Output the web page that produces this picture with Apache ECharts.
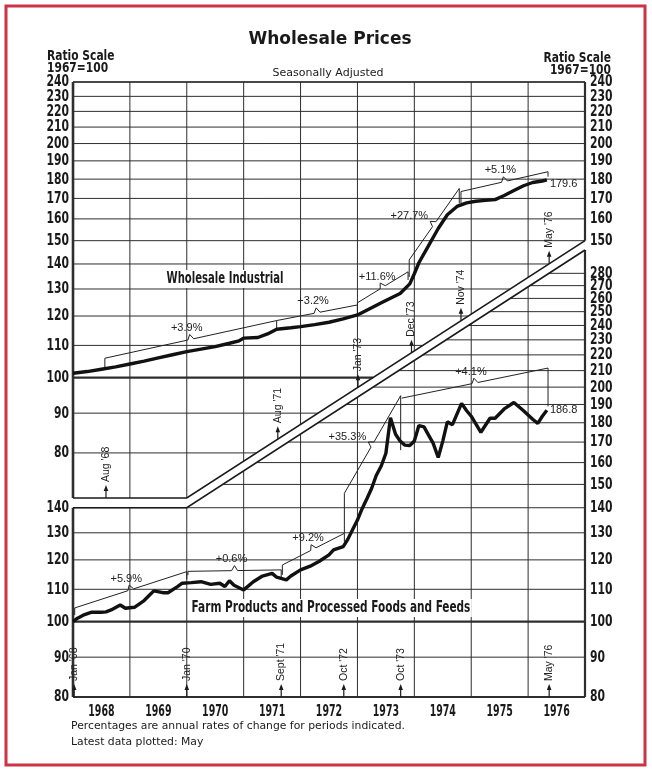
<!DOCTYPE html>
<html>
<head>
<meta charset="utf-8">
<script src="https://cdn.jsdelivr.net/npm/echarts@6/dist/echarts.min.js"></script>
<style>
html, body { margin: 0; padding: 0; background: #fff; }
#chart { width: 652px; height: 771px; }
</style>
</head>
<body>
<div id="chart"></div>
<script>
// dates are decimal years, values are index numbers (1967 = 100)
var industrialDates = [1968.00, 1968.25, 1968.50, 1968.75, 1969.00, 1969.25, 1969.50, 1969.75, 1970.00, 1970.25,
    1970.50, 1970.75, 1970.92, 1971.00, 1971.25, 1971.42, 1971.58, 1971.83, 1972.00, 1972.25, 1972.50, 1972.75,
    1973.00, 1973.25, 1973.42, 1973.58, 1973.75, 1973.92, 1974.00, 1974.08, 1974.25, 1974.42, 1974.58, 1974.75,
    1974.92, 1975.08, 1975.25, 1975.42, 1975.58, 1975.75, 1975.92, 1976.08, 1976.25, 1976.33];
var industrialValues = [101.3, 101.8, 102.5, 103.2, 104.1, 105.0, 106.0, 107.0, 108.0, 108.8,
    109.6, 110.7, 111.5, 112.4, 112.6, 113.8, 115.4, 115.9, 116.3, 117.0, 117.8, 119.0,
    120.4, 123.0, 124.8, 126.5, 128.3, 132.0, 136.0, 140.5, 147.8, 155.5, 162.0, 166.0,
    167.8, 168.6, 169.0, 169.4, 171.5, 174.0, 176.5, 178.2, 179.0, 179.6];

var farmDates = [1968.00, 1968.08, 1968.18, 1968.33, 1968.50, 1968.58, 1968.67, 1968.83, 1968.92, 1969.08,
    1969.25, 1969.42, 1969.58, 1969.67, 1969.83, 1969.92, 1970.08, 1970.25, 1970.42, 1970.58,
    1970.67, 1970.75, 1970.83, 1971.00, 1971.17, 1971.33, 1971.50, 1971.58, 1971.75, 1971.83,
    1972.00, 1972.17, 1972.33, 1972.50, 1972.58, 1972.75, 1972.83, 1972.92, 1973.00, 1973.08,
    1973.17, 1973.25, 1973.33, 1973.42, 1973.50, 1973.58, 1973.67, 1973.75, 1973.83, 1973.92,
    1974.00, 1974.08, 1974.17, 1974.25, 1974.33, 1974.42, 1974.50, 1974.58, 1974.67, 1974.83,
    1974.92, 1975.00, 1975.17, 1975.33, 1975.42, 1975.58, 1975.75, 1975.92, 1976.08, 1976.17,
    1976.25, 1976.33];
var farmValues = [100.0, 101.0, 101.9, 102.8, 102.8, 102.9, 103.5, 105.0, 104.0, 104.3,
    106.4, 109.5, 108.9, 108.9, 110.8, 112.0, 112.2, 112.5, 111.6, 112.0,
    110.9, 112.8, 111.3, 109.8, 112.5, 114.4, 115.3, 114.0, 113.1, 114.4,
    116.5, 117.8, 119.5, 121.8, 123.6, 124.8, 127.5, 131.5, 135.0, 139.5,
    144.0, 148.3, 154.0, 158.5, 164.5, 182.7, 174.0, 170.5, 168.5, 168.3,
    170.5, 178.5, 177.8, 173.5, 169.5, 162.4, 170.5, 180.5, 179.0, 190.6,
    186.5, 183.5, 175.0, 182.4, 182.4, 187.5, 191.1, 186.5, 181.9, 179.7,
    183.5, 186.8];

var yearLabels = ['1968', '1969', '1970', '1971', '1972', '1973', '1974', '1975', '1976'];
var gridYears = [1969, 1970, 1971, 1972, 1973, 1974, 1975, 1976];
var upperTicks = [80, 90, 100, 110, 120, 130, 140, 150, 160, 170, 180, 190, 200, 210, 220, 230, 240];
var upperRightTicks = [150, 160, 170, 180, 190, 200, 210, 220, 230, 240];
var lowerLeftTicks = [80, 90, 100, 110, 120, 130, 140];
var lowerTicks = [80, 90, 100, 110, 120, 130, 140, 150, 160, 170, 180, 190, 200, 210, 220, 230, 240, 250, 260, 270, 280];

// rate brackets: [from, to, start at curve, start of bar, end of bar, end at curve, label]
var industrialRates = [
    [1968.56, 1971.58, 103.0, 105.9, 118.4, 115.4, '+3.9%'],
    [1971.58, 1973.00, 118.4, 118.4, 124.0, 120.4, '+3.2%'],
    [1973.00, 1973.89, 121.5, 124.8, 136.8, 133.5, '+11.6%'],
    [1973.91, 1974.79, 134.7, 141.7, 175.1, 167.5, '+27.7%'],
    [1974.82, 1976.35, 167.5, 173.5, 184.0, 181.3, '+5.1%']
];
var industrialRatePlaces = ['above', 'above', 'above', 'left', 'above'];
var farmRates = [
    [1968.03, 1970.00, 101.9, 104.1, 115.9, 113.3, '+5.9%'],
    [1970.02, 1971.66, 114.7, 116.0, 116.5, 113.6, '+0.6%'],
    [1971.68, 1972.77, 114.8, 118.2, 129.8, 126.6, '+9.2%'],
    [1972.77, 1973.76, 129.8, 146.1, 195.0, 166.0, '+35.3%'],
    [1973.78, 1976.35, 193.6, 193.6, 211.6, 188.9, '+4.1%']
];
var farmRatePlaces = ['above', 'above', 'above', 'left', 'above'];

var industrialEvents = [1968.58, 1971.60, 1973.01, 1973.95, 1974.82, 1976.37];
var industrialEventLabels = ["Aug '68", "Aug '71", "Jan '73", "Dec '73", "Nov '74", "May '76"];
var farmEvents = [1968.02, 1970.00, 1971.66, 1972.76, 1973.76, 1976.37];
var farmEventLabels = ["Jan '68", "Jan '70", "Sept '71", "Oct '72", "Oct '73", "May '76"];

var START_YEAR = 1968, BREAK_YEAR = 1970, END_YEAR = 1977;
var UPPER_MIN = 70, UPPER_MAX = 240, UPPER_DIAG_END = 150;
var LOWER_MIN = 80, LOWER_MAX = 300, LOWER_FLAT = 140;

var NARROW = '"Liberation Sans Narrow", "DejaVu Sans Condensed", "DejaVu Sans", sans-serif';
var PLAIN = '"Liberation Sans", "DejaVu Sans", sans-serif';
var INK = '#1a1a1a';
var GRID_INK = '#2e2e2e';

function zip(xs, ys) {
    return xs.map(function (x, i) { return [x, ys[i]]; });
}

// y of the upper panel's lower edge (flat, then diagonal) at pixel x
function upperEdgeY(api, x) {
    var b1 = api.coord([BREAK_YEAR, UPPER_MIN]);
    var b2 = api.coord([END_YEAR, UPPER_DIAG_END]);
    if (x <= b1[0]) return b1[1];
    return b1[1] + (x - b1[0]) * (b2[1] - b1[1]) / (b2[0] - b1[0]);
}
function upperEdgeX(api, y) {
    var b1 = api.coord([BREAK_YEAR, UPPER_MIN]);
    var b2 = api.coord([END_YEAR, UPPER_DIAG_END]);
    return b1[0] + (y - b1[1]) * (b2[0] - b1[0]) / (b2[1] - b1[1]);
}
function lowerEdgeY(api, x) {
    var c1 = api.coord([BREAK_YEAR, LOWER_FLAT]);
    var c2 = api.coord([END_YEAR, LOWER_MAX]);
    if (x <= c1[0]) return c1[1];
    return c1[1] + (x - c1[0]) * (c2[1] - c1[1]) / (c2[0] - c1[0]);
}
function lowerEdgeX(api, y) {
    var c1 = api.coord([BREAK_YEAR, LOWER_FLAT]);
    var c2 = api.coord([END_YEAR, LOWER_MAX]);
    return c1[0] + (y - c1[1]) * (c2[0] - c1[0]) / (c2[1] - c1[1]);
}

function seg(x1, y1, x2, y2, w) {
    return { type: 'line', shape: { x1: x1, y1: y1, x2: x2, y2: y2 }, style: { stroke: GRID_INK, lineWidth: w } };
}

var upperHLines = {
    type: 'custom', xAxisIndex: 0, yAxisIndex: 0, silent: true, clip: false, z: 1,
    data: upperTicks.map(function (v) { return [START_YEAR, v]; }),
    renderItem: function (params, api) {
        var v = api.value(1);
        var p = api.coord([START_YEAR, v]);
        var right = api.coord([END_YEAR, v])[0];
        var end = api.coord([END_YEAR, UPPER_DIAG_END]);
        var xr = p[1] <= end[1] ? right : upperEdgeX(api, p[1]);
        return seg(p[0], p[1], xr, p[1], v === 100 ? 2.2 : 1);
    }
};
var upperVLines = {
    type: 'custom', xAxisIndex: 0, yAxisIndex: 0, silent: true, clip: false, z: 1,
    data: gridYears.map(function (t) { return [t, UPPER_MAX]; }),
    renderItem: function (params, api) {
        var p = api.coord([api.value(0), UPPER_MAX]);
        return seg(p[0], p[1], p[0], upperEdgeY(api, p[0]), 1);
    }
};
var upperFrame = {
    type: 'custom', xAxisIndex: 0, yAxisIndex: 0, silent: true, clip: false, z: 2,
    data: [[START_YEAR, UPPER_MAX]],
    renderItem: function (params, api) {
        var tl = api.coord([START_YEAR, UPPER_MAX]), tr = api.coord([END_YEAR, UPPER_MAX]);
        var bl = api.coord([START_YEAR, UPPER_MIN]), bk = api.coord([BREAK_YEAR, UPPER_MIN]);
        var br = api.coord([END_YEAR, UPPER_DIAG_END]);
        return { type: 'group', children: [
            seg(tl[0], tl[1], tr[0], tr[1], 1.6),
            seg(tl[0], tl[1], bl[0], bl[1], 2.6),
            seg(tr[0], tr[1], br[0], br[1], 2.2),
            { type: 'polyline', shape: { points: [bl, bk, br] }, style: { stroke: INK, lineWidth: 1.6, fill: null } }
        ] };
    }
};

var lowerHLines = {
    type: 'custom', xAxisIndex: 1, yAxisIndex: 1, silent: true, clip: false, z: 1,
    data: lowerTicks.map(function (v) { return [START_YEAR, v]; }),
    renderItem: function (params, api) {
        var v = api.value(1);
        var p = api.coord([START_YEAR, v]);
        var right = api.coord([END_YEAR, v])[0];
        var flat = api.coord([BREAK_YEAR, LOWER_FLAT]);
        var xl = p[1] >= flat[1] ? p[0] : lowerEdgeX(api, p[1]);
        return seg(xl, p[1], right, p[1], v === 100 ? 2.2 : 1);
    }
};
var lowerVLines = {
    type: 'custom', xAxisIndex: 1, yAxisIndex: 1, silent: true, clip: false, z: 1,
    data: gridYears.map(function (t) { return [t, LOWER_MIN]; }),
    renderItem: function (params, api) {
        var p = api.coord([api.value(0), LOWER_MIN]);
        return seg(p[0], lowerEdgeY(api, p[0]), p[0], p[1], 1);
    }
};
var lowerFrame = {
    type: 'custom', xAxisIndex: 1, yAxisIndex: 1, silent: true, clip: false, z: 2,
    data: [[START_YEAR, LOWER_MIN]],
    renderItem: function (params, api) {
        var tl = api.coord([START_YEAR, LOWER_FLAT]), bk = api.coord([BREAK_YEAR, LOWER_FLAT]);
        var tr = api.coord([END_YEAR, LOWER_MAX]);
        var bl = api.coord([START_YEAR, LOWER_MIN]), br = api.coord([END_YEAR, LOWER_MIN]);
        return { type: 'group', children: [
            seg(tl[0], tl[1], bl[0], bl[1], 2.6),
            seg(bl[0], bl[1], br[0], br[1], 2.2),
            seg(br[0], br[1], tr[0], tr[1], 2.2),
            { type: 'polyline', shape: { points: [tl, bk, tr] }, style: { stroke: INK, lineWidth: 1.6, fill: null } }
        ] };
    }
};

function tickLabels(grid, ticks, side) {
    return {
        type: 'custom', xAxisIndex: grid, yAxisIndex: grid, silent: true, clip: false, z: 5,
        data: ticks.map(function (v) { return [side === 'left' ? START_YEAR : END_YEAR, v]; }),
        renderItem: function (params, api) {
            var p = api.coord([api.value(0), api.value(1)]);
            return {
                type: 'text', x: p[0] + (side === 'left' ? -4 : 5), y: p[1] + 0.5, scaleX: 0.8,
                style: {
                    text: String(api.value(1)), align: side === 'left' ? 'right' : 'left',
                    verticalAlign: 'middle', font: 'bold 15px ' + NARROW, fill: INK
                }
            };
        }
    };
}

// year names sit in the middle of each year band, under the lower panel
var yearNames = {
    type: 'custom', xAxisIndex: 1, yAxisIndex: 1, silent: true, clip: false, z: 5,
    data: yearLabels.map(function (y) { return [Number(y) + 0.5, LOWER_MIN]; }),
    renderItem: function (params, api) {
        var p = api.coord([api.value(0), api.value(1)]);
        return {
            type: 'text', x: p[0], y: p[1] + 15, scaleX: 0.7,
            style: {
                text: yearLabels[params.dataIndex], align: 'center', verticalAlign: 'middle',
                font: 'bold 15px ' + NARROW, fill: INK
            }
        };
    }
};

function rateBrackets(grid, rates, places) {
    return {
        type: 'custom', xAxisIndex: grid, yAxisIndex: grid, silent: true, clip: false, z: 3,
        data: rates.map(function (r) { return [r[0], r[3]]; }),
        renderItem: function (params, api) {
            var r = rates[params.dataIndex];
            var b0 = api.coord([r[0], r[2]]), t0 = api.coord([r[0], r[3]]);
            var t1 = api.coord([r[1], r[4]]), b1 = api.coord([r[1], r[5]]);
            var dx = t1[0] - t0[0], dy = t1[1] - t0[1];
            var len = Math.sqrt(dx * dx + dy * dy);
            var ux = dx / len, uy = dy / len, nx = uy, ny = -ux;
            var mx = (t0[0] + t1[0]) / 2, my = (t0[1] + t1[1]) / 2;
            var tip = [mx + 5 * nx, my + 5 * ny];
            var pts = [b0, t0, [mx - 3 * ux, my - 3 * uy], tip, [mx + 3 * ux, my + 3 * uy], t1, b1];
            var lab = places[params.dataIndex] === 'left'
                ? { x: tip[0] - 2, y: tip[1] - 5, align: 'right', va: 'middle' }
                : { x: tip[0] - 3, y: tip[1] - 1, align: 'center', va: 'bottom' };
            return { type: 'group', children: [
                { type: 'polyline', shape: { points: pts }, style: { stroke: '#222', lineWidth: 1, fill: null } },
                { type: 'text', x: lab.x, y: lab.y, style: {
                    text: r[6], align: lab.align, verticalAlign: lab.va, font: '11px ' + PLAIN, fill: '#222'
                } }
            ] };
        }
    };
}

function eventArrows(grid, dates, labels, upper) {
    return {
        type: 'custom', xAxisIndex: grid, yAxisIndex: grid, silent: true, clip: false, z: 4,
        data: dates.map(function (t) { return [t, upper ? UPPER_MIN : LOWER_MIN]; }),
        renderItem: function (params, api) {
            var p = api.coord([api.value(0), api.value(1)]);
            var x = p[0];
            var base = upper ? upperEdgeY(api, x) : p[1];
            return { type: 'group', children: [
                { type: 'line', shape: { x1: x, y1: base, x2: x, y2: base - 9 }, style: { stroke: INK, lineWidth: 1.2 } },
                { type: 'polygon', shape: { points: [[x, base - 13], [x - 2.3, base - 7], [x + 2.3, base - 7]] }, style: { fill: INK } },
                { type: 'text', x: x, y: base - 16, rotation: Math.PI / 2, style: {
                    text: labels[params.dataIndex], align: 'left', verticalAlign: 'middle',
                    font: '10.5px ' + PLAIN, fill: '#222'
                } }
            ] };
        }
    };
}

var chart = echarts.init(document.getElementById('chart'));
chart.setOption({
    animation: false,
    backgroundColor: '#fff',
    grid: [
        { left: 73, right: 67, top: 82, height: 416 },
        { left: 73, right: 67, top: 250, height: 447 }
    ],
    xAxis: [
        { gridIndex: 0, type: 'value', min: START_YEAR, max: END_YEAR, show: false },
        { gridIndex: 1, type: 'value', min: START_YEAR, max: END_YEAR, show: false }
    ],
    yAxis: [
        { gridIndex: 0, type: 'log', min: UPPER_MIN, max: UPPER_MAX, show: false },
        { gridIndex: 1, type: 'log', min: LOWER_MIN, max: LOWER_MAX, show: false }
    ],
    graphic: [
        { type: 'rect', z: 0, shape: { x: 6, y: 6, width: 639, height: 759 }, style: { fill: null, stroke: '#cc3344', lineWidth: 3 } },
        { type: 'text', z: 10, x: 330, y: 40, style: { text: 'Wholesale Prices', align: 'center', verticalAlign: 'middle', font: 'bold 17px "DejaVu Sans", sans-serif', fill: INK } },
        { type: 'text', z: 10, x: 328, y: 73, style: { text: 'Seasonally Adjusted', align: 'center', verticalAlign: 'middle', font: '11px "DejaVu Sans", sans-serif', fill: INK } },
        { type: 'text', z: 10, x: 47, y: 56, scaleX: 0.85, style: { text: 'Ratio Scale', align: 'left', verticalAlign: 'middle', font: 'bold 14px ' + NARROW, fill: INK } },
        { type: 'text', z: 10, x: 47, y: 68, scaleX: 0.85, style: { text: '1967=100', align: 'left', verticalAlign: 'middle', font: 'bold 14px ' + NARROW, fill: INK } },
        { type: 'text', z: 10, x: 611, y: 58, scaleX: 0.85, style: { text: 'Ratio Scale', align: 'right', verticalAlign: 'middle', font: 'bold 14px ' + NARROW, fill: INK } },
        { type: 'text', z: 10, x: 611, y: 70, scaleX: 0.85, style: { text: '1967=100', align: 'right', verticalAlign: 'middle', font: 'bold 14px ' + NARROW, fill: INK } },
        { type: 'text', z: 10, x: 225, y: 279, scaleX: 0.7, style: { text: 'Wholesale Industrial', align: 'center', verticalAlign: 'middle', font: 'bold 16px ' + NARROW, fill: INK, backgroundColor: '#fff', padding: [1, 2] } },
        { type: 'text', z: 10, x: 331, y: 608, scaleX: 0.73, style: { text: 'Farm Products and Processed Foods and Feeds', align: 'center', verticalAlign: 'middle', font: 'bold 16px ' + NARROW, fill: INK, backgroundColor: '#fff', padding: [1, 2] } },
        { type: 'text', z: 10, x: 71, y: 726, style: { text: 'Percentages are annual rates of change for periods indicated.', align: 'left', verticalAlign: 'middle', font: '10.8px "DejaVu Sans", sans-serif', fill: INK } },
        { type: 'text', z: 10, x: 71, y: 742, style: { text: 'Latest data plotted: May', align: 'left', verticalAlign: 'middle', font: '10.8px "DejaVu Sans", sans-serif', fill: INK } }
    ],
    series: [
        upperHLines, upperVLines, upperFrame,
        lowerHLines, lowerVLines, lowerFrame,
        tickLabels(0, upperTicks, 'left'),
        tickLabels(0, upperRightTicks, 'right'),
        tickLabels(1, lowerLeftTicks, 'left'),
        tickLabels(1, lowerTicks, 'right'),
        yearNames,
        rateBrackets(0, industrialRates, industrialRatePlaces),
        rateBrackets(1, farmRates, farmRatePlaces),
        eventArrows(0, industrialEvents, industrialEventLabels, true),
        eventArrows(1, farmEvents, farmEventLabels, false),
        {
            name: 'Wholesale Industrial', type: 'line', xAxisIndex: 0, yAxisIndex: 0, z: 4,
            data: zip(industrialDates, industrialValues), showSymbol: false, silent: true,
            lineStyle: { color: '#111', width: 3.4 },
            endLabel: { show: true, formatter: function (p) { return p.value[1].toFixed(1); }, offset: [0, 4], distance: 3, color: '#222', fontSize: 11, fontFamily: PLAIN }
        },
        {
            name: 'Farm Products', type: 'line', xAxisIndex: 1, yAxisIndex: 1, z: 4,
            data: zip(farmDates, farmValues), showSymbol: false, silent: true,
            lineStyle: { color: '#111', width: 3.4 },
            endLabel: { show: true, formatter: function (p) { return p.value[1].toFixed(1); }, offset: [0, 0], distance: 3, color: '#222', fontSize: 11, fontFamily: PLAIN }
        }
    ]
});
</script>
</body>
</html>
